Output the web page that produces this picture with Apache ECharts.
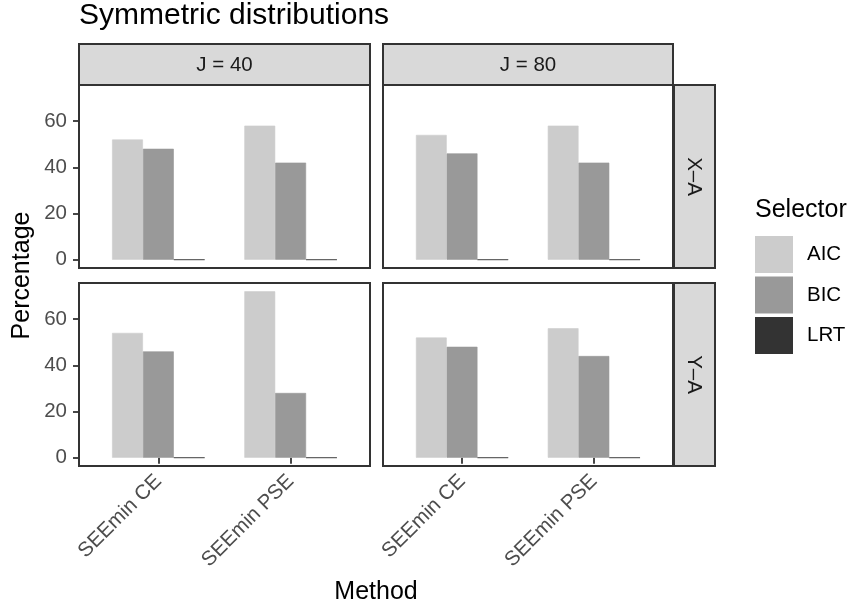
<!DOCTYPE html>
<html>
<head>
<meta charset="utf-8">
<script src="https://cdn.jsdelivr.net/npm/echarts@6/dist/echarts.min.js"></script>
<style>
  html, body { margin: 0; padding: 0; background: #ffffff; }
  #chart { width: 850px; height: 613px; }
</style>
</head>
<body>
<div id="chart"></div>
<script>
// Categories and facet labels
const methods = ['SEEmin CE', 'SEEmin PSE'];
const selectors = ['AIC', 'BIC', 'LRT'];
const colLabels = ['J = 40', 'J = 80'];
const rowLabels = ['X\u2013A', 'Y\u2013A'];
const yTicks = [0, 20, 40, 60];

// Percentage selected, per panel and selector (one value per method)
const xaJ40Aic = [52, 58];
const xaJ40Bic = [48, 42];
const xaJ40Lrt = [0, 0];
const xaJ80Aic = [54, 58];
const xaJ80Bic = [46, 42];
const xaJ80Lrt = [0, 0];
const yaJ40Aic = [54, 72];
const yaJ40Bic = [46, 28];
const yaJ40Lrt = [0, 0];
const yaJ80Aic = [52, 56];
const yaJ80Bic = [48, 44];
const yaJ80Lrt = [0, 0];

const panelValues = [
  [[xaJ40Aic, xaJ40Bic, xaJ40Lrt], [xaJ80Aic, xaJ80Bic, xaJ80Lrt]],
  [[yaJ40Aic, yaJ40Bic, yaJ40Lrt], [yaJ80Aic, yaJ80Bic, yaJ80Lrt]]
];

const fills = ['#CCCCCC', '#999999', '#333333'];
const FONT = '"Liberation Sans", Arial, Helvetica, sans-serif';
const frame = '#333333';
const SMALL = 20.5, MEDIUM = 25, LARGE = 30;

// Panel layout
const colX = [79, 383];
const colW = [291, 290];
const rowY = [85, 283];
const rowH = 183;
const stripTop = 44, stripH = 41;
const stripRightX = 674, stripRightW = 41;

// y range with 5% padding either side of the data range (0 to the largest value)
let dataMax = 0;
panelValues.forEach(r => r.forEach(p => p.forEach(s => s.forEach(v => { dataMax = Math.max(dataMax, v); }))));
const pad = dataMax * 0.05;
const yMin = -pad, yMax = dataMax + pad;

const grids = [], xAxes = [], yAxes = [], series = [];
let idx = 0;
for (let r = 0; r < 2; r++) {
  for (let c = 0; c < 2; c++) {
    grids.push({
      left: colX[c], top: rowY[r], width: colW[c], height: rowH,
      show: true, backgroundColor: '#ffffff',
      borderColor: frame, borderWidth: 2, containLabel: false
    });
    const bottomRow = r === 1;
    const leftCol = c === 0;
    xAxes.push({
      type: 'value', gridIndex: idx, min: 0.4, max: methods.length + 0.6,
      axisLine: { show: false },
      splitLine: { show: false },
      axisTick: { show: bottomRow, customValues: methods.map((m, i) => i + 1), length: 6, lineStyle: { color: frame, width: 1.8 } },
      axisLabel: {
        show: bottomRow, customValues: methods.map((m, i) => i + 1),
        formatter: v => methods[Math.round(v) - 1] || '',
        rotate: 45, margin: 12, color: '#4D4D4D', fontSize: SMALL, fontFamily: FONT
      }
    });
    yAxes.push({
      type: 'value', gridIndex: idx, min: yMin, max: yMax,
      axisLine: { show: false },
      splitLine: { show: false },
      axisTick: { show: leftCol, customValues: yTicks, length: 6, lineStyle: { color: frame, width: 1.8 } },
      axisLabel: {
        show: leftCol, customValues: yTicks, margin: 12,
        color: '#4D4D4D', fontSize: SMALL, fontFamily: FONT
      }
    });
    const vals = panelValues[r][c];
    selectors.forEach((sel, k) => {
      series.push({
        type: 'bar', name: sel, xAxisIndex: idx, yAxisIndex: idx,
        stack: 'p' + idx + sel,
        data: vals[k].map((v, i) => [i + 1, v]),
        barWidth: '23.33%', barGap: '0%',
        itemStyle: { color: fills[k], borderColor: fills[k], borderWidth: 0.6 },
        emphasis: { disabled: true },
        animation: false
      });
    });
    idx++;
  }
}

// Facet strips and axis titles
const graphics = [];
for (let c = 0; c < 2; c++) {
  graphics.push({ type: 'rect', shape: { x: colX[c], y: stripTop, width: colW[c], height: stripH },
    style: { fill: '#D9D9D9', stroke: frame, lineWidth: 2 }, z: 10 });
  graphics.push({ type: 'text', x: colX[c] + colW[c] / 2, y: stripTop + stripH / 2 + 1,
    style: { text: colLabels[c], fill: '#1A1A1A', font: SMALL + 'px ' + FONT, align: 'center', verticalAlign: 'middle' }, z: 11 });
}
for (let r = 0; r < 2; r++) {
  graphics.push({ type: 'rect', shape: { x: stripRightX, y: rowY[r], width: stripRightW, height: rowH },
    style: { fill: '#D9D9D9', stroke: frame, lineWidth: 2 }, z: 10 });
  graphics.push({ type: 'text', x: stripRightX + stripRightW / 2 - 1, y: rowY[r] + rowH / 2, rotation: -Math.PI / 2,
    style: { text: rowLabels[r], fill: '#1A1A1A', font: SMALL + 'px ' + FONT, align: 'center', verticalAlign: 'middle' }, z: 11 });
}
graphics.push({ type: 'text', x: (colX[0] + colX[1] + colW[1]) / 2, y: 592,
  style: { text: 'Method', fill: '#000000', font: MEDIUM + 'px ' + FONT, align: 'center', verticalAlign: 'middle' } });
graphics.push({ type: 'text', x: 22, y: (rowY[0] + rowY[1] + rowH) / 2, rotation: Math.PI / 2,
  style: { text: 'Percentage', fill: '#000000', font: MEDIUM + 'px ' + FONT, align: 'center', verticalAlign: 'middle' } });
graphics.push({ type: 'text', x: 755, y: 210,
  style: { text: 'Selector', fill: '#000000', font: MEDIUM + 'px ' + FONT, align: 'left', verticalAlign: 'middle' } });

const chart = echarts.init(document.getElementById('chart'), null, { renderer: 'canvas' });
chart.setOption({
  animation: false,
  backgroundColor: '#ffffff',
  title: {
    text: 'Symmetric distributions', left: 79, top: 1, padding: 0,
    textStyle: { fontSize: LARGE, fontWeight: 'normal', color: '#000000', fontFamily: FONT }
  },
  legend: {
    data: selectors, orient: 'vertical', left: 755, top: 236, padding: 0,
    itemWidth: 38, itemHeight: 37, itemGap: 3.5, icon: 'rect',
    selectedMode: false,
    textStyle: { fontSize: SMALL, color: '#000000', fontFamily: FONT, padding: [0, 0, 0, 9] },
    itemStyle: { borderWidth: 0 }
  },
  grid: grids,
  xAxis: xAxes,
  yAxis: yAxes,
  series: series,
  graphic: graphics
});
</script>
</body>
</html>
